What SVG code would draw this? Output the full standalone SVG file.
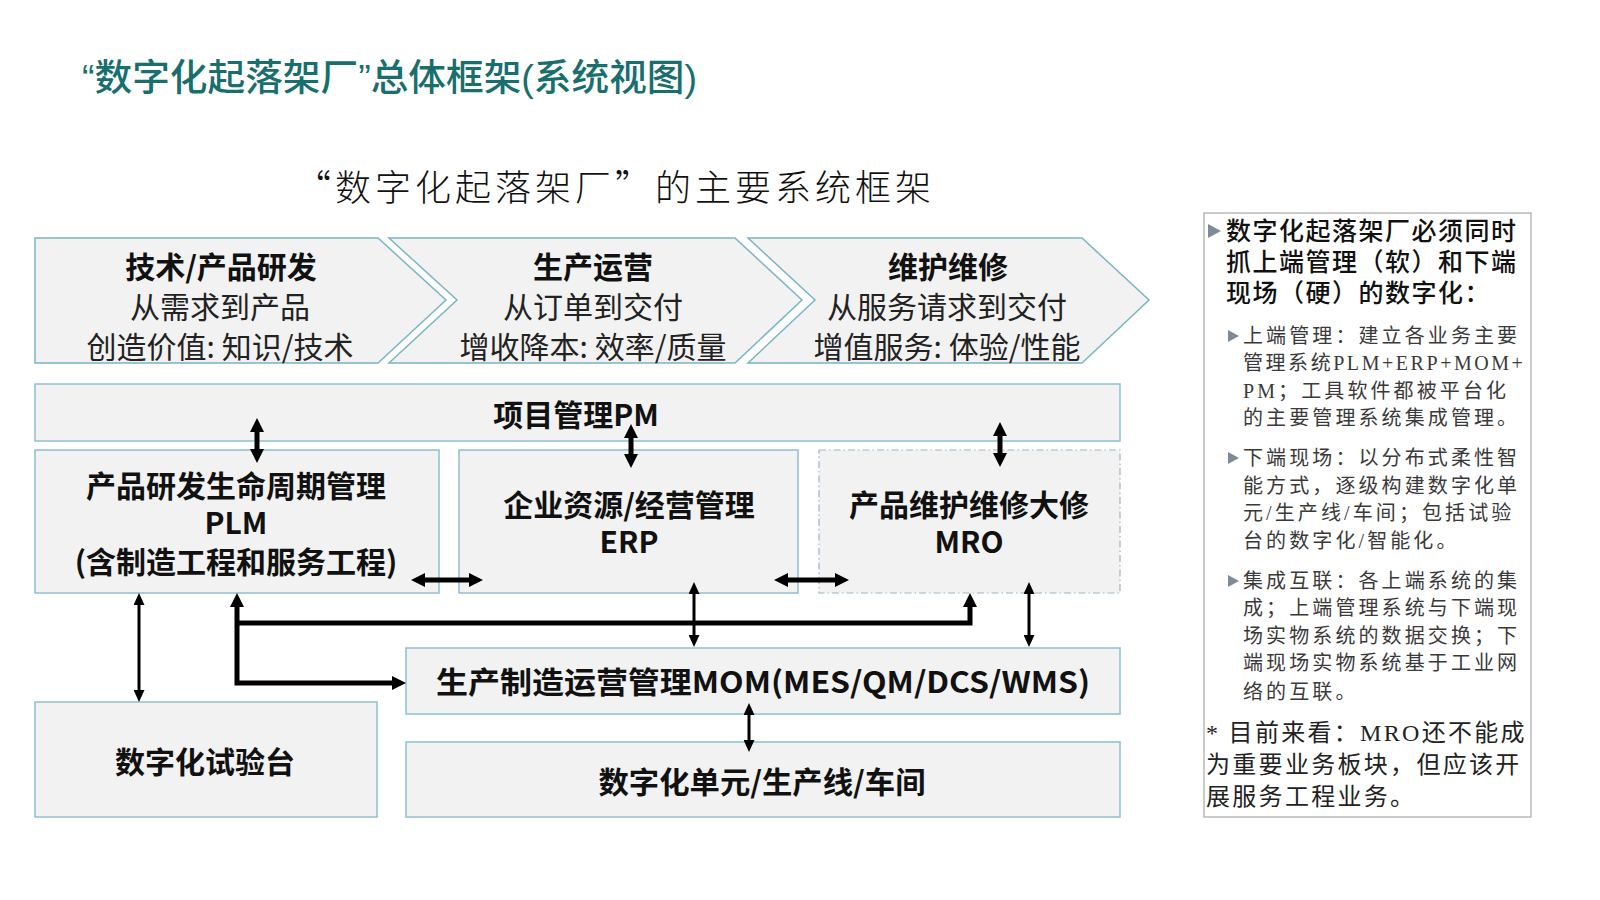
<svg xmlns="http://www.w3.org/2000/svg" width="1600" height="900" viewBox="0 0 1600 900">
<defs>
<style>
.cn{font-family:"Noto Sans CJK SC","Noto Sans",sans-serif;}
.title{font-family:"Liberation Sans","Noto Sans CJK SC",sans-serif;font-size:37px;font-weight:500;fill:#196e6e;}
.sub{font-size:36px;fill:#111;font-weight:300;}
.chev{fill:#f2f2f2;stroke:#7ab4c6;stroke-width:1.5;}
.box{fill:#f2f2f2;stroke:#8cc0d0;stroke-width:1.5;}
.dbox{fill:#f2f2f2;stroke:#9fb3c2;stroke-width:1.2;stroke-dasharray:7 3 1.5 3;}
.bt{font-size:30px;font-weight:bold;fill:#111;text-anchor:middle;dominant-baseline:central;}
.nt{font-size:30px;fill:#222;text-anchor:middle;dominant-baseline:central;}
.big{stroke:#000;stroke-width:5;fill:none;marker-start:url(#ah);marker-end:url(#ah);}
.sm{stroke:#000;stroke-width:3;fill:none;marker-start:url(#as);marker-end:url(#as);}
.rp{font-family:"Liberation Serif","Noto Sans CJK SC",serif;dominant-baseline:central;}
.h1{font-size:25px;font-weight:500;fill:#111;letter-spacing:1.5px;}
.h2{font-size:20px;fill:#3a3a3a;letter-spacing:3.1px;}
.h3{font-size:24px;fill:#222;letter-spacing:2.3px;}
.tri{fill:#7d8b99;}
</style>
<marker id="ah" viewBox="0 0 14 14" markerWidth="14" markerHeight="14" refX="4" refY="7" orient="auto-start-reverse" markerUnits="userSpaceOnUse"><path d="M0,0 L14,7 L0,14 Z" fill="#000"/></marker>
<marker id="as" viewBox="0 0 12 11" markerWidth="12" markerHeight="11" refX="3" refY="5.5" orient="auto-start-reverse" markerUnits="userSpaceOnUse"><path d="M0,0 L12,5.5 L0,11 Z" fill="#000"/></marker>
</defs>
<rect width="1600" height="900" fill="#fff"/>

<text class="title" x="82" y="91" textLength="615" lengthAdjust="spacingAndGlyphs">“数字化起落架厂”总体框架(系统视图)</text>
<text class="cn sub" x="295" y="201" textLength="636">“数字化起落架厂”的主要系统框架</text>

<g id="chevron-rd">
<path class="chev" d="M35,238 L378,238 L446,300 L378,363 L35,363 Z"/>
<text class="cn bt" x="221" y="265">技术/产品研发</text>
<text class="cn nt" x="220" y="305">从需求到产品</text>
<text class="cn nt" x="220" y="345">创造价值: 知识/技术</text>
</g>
<g id="chevron-ops">
<path class="chev" d="M389,238 L735,238 L802,300 L735,363 L389,363 L457,300 Z"/>
<text class="cn bt" x="593" y="265">生产运营</text>
<text class="cn nt" x="593" y="305">从订单到交付</text>
<text class="cn nt" x="593" y="345">增收降本: 效率/质量</text>
</g>
<g id="chevron-mro">
<path class="chev" d="M748,238 L1082,238 L1149,300 L1082,363 L748,363 L815,300 Z"/>
<text class="cn bt" x="948" y="265">维护维修</text>
<text class="cn nt" x="947" y="305">从服务请求到交付</text>
<text class="cn nt" x="947" y="345">增值服务: 体验/性能</text>
</g>

<g id="pm">
<rect class="box" x="35" y="384" width="1085" height="57"/>
<text class="cn bt" x="576" y="413">项目管理PM</text>
</g>
<g id="plm">
<rect class="box" x="35" y="450" width="404" height="143"/>
<text class="cn bt" x="236" y="484">产品研发生命周期管理</text>
<text class="cn bt" x="236" y="521">PLM</text>
<text class="cn bt" x="236" y="560">(含制造工程和服务工程)</text>
</g>
<g id="erp">
<rect class="box" x="459" y="450" width="339" height="143"/>
<text class="cn bt" x="629" y="503">企业资源/经营管理</text>
<text class="cn bt" x="629" y="540">ERP</text>
</g>
<g id="mro">
<rect class="dbox" x="819" y="450" width="301" height="143"/>
<text class="cn bt" x="969" y="503">产品维护维修大修</text>
<text class="cn bt" x="969" y="540">MRO</text>
</g>
<g id="mom">
<rect class="box" x="406" y="648" width="714" height="66"/>
<text class="cn bt" x="763" y="680" font-size="31" textLength="654" lengthAdjust="spacingAndGlyphs">生产制造运营管理MOM(MES/QM/DCS/WMS)</text>
</g>
<g id="testbed">
<rect class="box" x="35" y="702" width="342" height="115"/>
<text class="cn bt" x="205" y="760">数字化试验台</text>
</g>
<g id="cell">
<rect class="box" x="406" y="742" width="714" height="75"/>
<text class="cn bt" x="762" y="780" font-size="32" textLength="327" lengthAdjust="spacingAndGlyphs">数字化单元/生产线/车间</text>
</g>

<g id="connectors">
<line class="big" x1="257" y1="428" x2="257" y2="453"/>
<line class="big" x1="631" y1="434" x2="631" y2="458"/>
<line class="big" x1="1000" y1="432" x2="1000" y2="457"/>
<line class="big" x1="421" y1="580" x2="473" y2="580"/>
<line class="big" x1="784" y1="580" x2="839" y2="580"/>
<path class="big" d="M237,603 L237,683 L396,683" stroke-linejoin="miter"/>
<path d="M237,623 L970,623 L970,603" stroke="#000" stroke-width="5" fill="none" marker-end="url(#ah)"/>
<line class="sm" x1="139" y1="602" x2="139" y2="693"/>
<line class="sm" x1="694" y1="591" x2="694" y2="638"/>
<line class="sm" x1="1029" y1="591" x2="1029" y2="638"/>
<line class="sm" x1="749" y1="712" x2="749" y2="743"/>
</g>

<g id="notes">
<rect x="1204" y="213" width="327" height="604" fill="#fff" stroke="#a8a8a8" stroke-width="1.2"/>
<path class="tri" d="M1208,224 L1221,231 L1208,238 Z"/>
<text class="rp h1" x="1226" y="231">数字化起落架厂必须同时</text>
<text class="rp h1" x="1226" y="262">抓上端管理（软）和下端</text>
<text class="rp h1" x="1226" y="293">现场（硬）的数字化：</text>
<path class="tri" d="M1228,330 L1239,336 L1228,342 Z"/>
<text class="rp h2" x="1243" y="336">上端管理：建立各业务主要</text>
<text class="rp h2" x="1243" y="363" letter-spacing="0" textLength="283">管理系统PLM+ERP+MOM+</text>
<text class="rp h2" x="1243" y="391">PM；工具软件都被平台化</text>
<text class="rp h2" x="1243" y="418">的主要管理系统集成管理。</text>
<path class="tri" d="M1228,452 L1239,458 L1228,464 Z"/>
<text class="rp h2" x="1243" y="458">下端现场：以分布式柔性智</text>
<text class="rp h2" x="1243" y="486">能方式，逐级构建数字化单</text>
<text class="rp h2" x="1243" y="513">元/生产线/车间；包括试验</text>
<text class="rp h2" x="1243" y="541">台的数字化/智能化。</text>
<path class="tri" d="M1228,575 L1239,581 L1228,587 Z"/>
<text class="rp h2" x="1243" y="581">集成互联：各上端系统的集</text>
<text class="rp h2" x="1243" y="608">成；上端管理系统与下端现</text>
<text class="rp h2" x="1243" y="636">场实物系统的数据交换；下</text>
<text class="rp h2" x="1243" y="663">端现场实物系统基于工业网</text>
<text class="rp h2" x="1243" y="692">络的互联。</text>
<text class="rp h3" x="1206" y="733">* 目前来看：MRO还不能成</text>
<text class="rp h3" x="1206" y="765">为重要业务板块，但应该开</text>
<text class="rp h3" x="1206" y="797">展服务工程业务。</text>
</g>
</svg>
